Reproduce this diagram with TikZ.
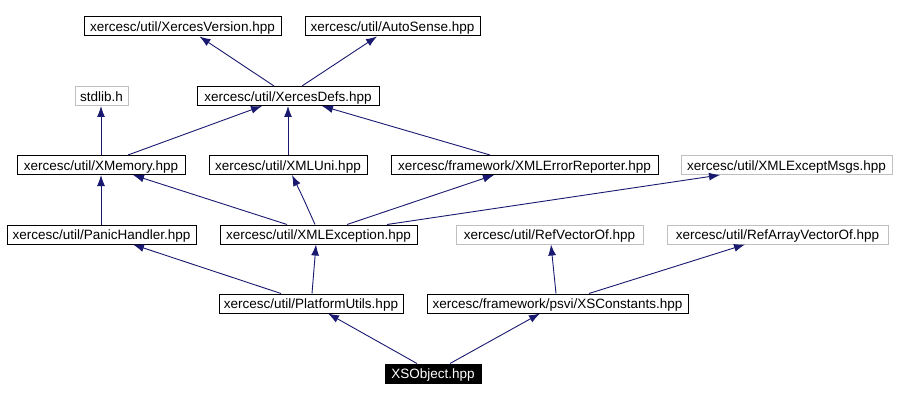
\documentclass[tikz,border=0pt]{standalone}
\usepackage{fontspec}
\setmainfont{Liberation Sans}
\usetikzlibrary{arrows.meta}
\definecolor{edgeblue}{HTML}{191970}
\definecolor{graybox}{HTML}{BFBFBF}
\tikzset{
  file/.style={draw=black, line width=1pt, inner sep=0pt, minimum height=19pt,
    text height=10.4pt, text depth=0pt, font=\fontsize{13.5}{15}\selectfont},
  extfile/.style={file, draw=graybox},
  curfile/.style={file, fill=black, text=white},
  dep/.style={draw=edgeblue, line width=0.9pt, -{Latex[length=11pt,width=8pt]}},
}
\begin{document}
\begin{tikzpicture}[x=1pt,y=-1pt]
\useasboundingbox (0,0) rectangle (897,401);
\node[file, minimum width=197pt] (XV) at (182.5,26.5) {xercesc/util/XercesVersion.hpp};
\node[file, minimum width=175pt] (AS) at (392.5,26.5) {xercesc/util/AutoSense.hpp};
\node[extfile, minimum width=53pt] (SL) at (101.5,96) {stdlib.h};
\node[file, minimum width=182pt] (XD) at (288,96) {xercesc/util/XercesDefs.hpp};
\node[file, minimum width=168pt] (XM) at (101,165) {xercesc/util/XMemory.hpp};
\node[file, minimum width=158pt] (XU) at (288,165) {xercesc/util/XMLUni.hpp};
\node[file, minimum width=267pt] (ER) at (524.5,165) {xercesc/framework/XMLErrorReporter.hpp};
\node[extfile, minimum width=211pt] (EM) at (786.5,165) {xercesc/util/XMLExceptMsgs.hpp};
\node[file, minimum width=189pt] (PH) at (101.5,234.5) {xercesc/util/PanicHandler.hpp};
\node[file, minimum width=197pt] (XE) at (318.5,234.5) {xercesc/util/XMLException.hpp};
\node[extfile, minimum width=187pt] (RV) at (549.5,234.5) {xercesc/util/RefVectorOf.hpp};
\node[extfile, minimum width=221pt] (RA) at (777.5,234.5) {xercesc/util/RefArrayVectorOf.hpp};
\node[file, minimum width=184pt] (PU) at (311,303.5) {xercesc/util/PlatformUtils.hpp};
\node[file, minimum width=261pt] (XC) at (557.5,303.5) {xercesc/framework/psvi/XSConstants.hpp};
\node[curfile, minimum width=96pt] (XO) at (433,373.5) {XSObject.hpp};

\draw[dep] ([xshift=-14pt]XD.north) -- ([xshift=17pt]XV.south);
\draw[dep] ([xshift=14pt]XD.north) -- ([xshift=-15.5pt]AS.south);
\draw[dep] (XM.north) -- (XM.north |- SL.south);
\draw[dep] ([xshift=27pt]XM.north) -- ([xshift=-26pt]XD.south);
\draw[dep] (XU.north) -- (XD.south);
\draw[dep] ([xshift=-34.5pt]ER.north) -- ([xshift=34pt]XD.south);
\draw[dep] (PH.north -| XM.south) -- (XM.south);
\draw[dep] ([xshift=-31.5pt]XE.north) -- ([xshift=32pt]XM.south);
\draw[dep] ([xshift=-3.5pt]XE.north) .. controls ([xshift=-16pt,yshift=28pt]XE.north) .. ([xshift=4pt]XU.south);
\draw[dep] ([xshift=28.5pt]XE.north) -- ([xshift=-30.5pt]ER.south);
\draw[dep] ([xshift=68.5pt]XE.north) -- ([xshift=-66.5pt]EM.south);
\draw[dep] ([xshift=-30pt]PU.north) -- ([xshift=31.5pt]PH.south);
\draw[dep] ([xshift=1pt]PU.north) -- ([xshift=-2.5pt]XE.south);
\draw[dep] ([xshift=-16pt]XO.north) -- ([xshift=17pt]PU.south);
\draw[dep] ([xshift=17pt]XO.north) -- ([xshift=-17.5pt]XC.south);
\draw[dep] ([xshift=-1.5pt]XC.north) -- ([xshift=1.5pt]RV.south);
\draw[dep] ([xshift=31.5pt]XC.north) -- ([xshift=-32.5pt]RA.south);
\end{tikzpicture}
\end{document}
